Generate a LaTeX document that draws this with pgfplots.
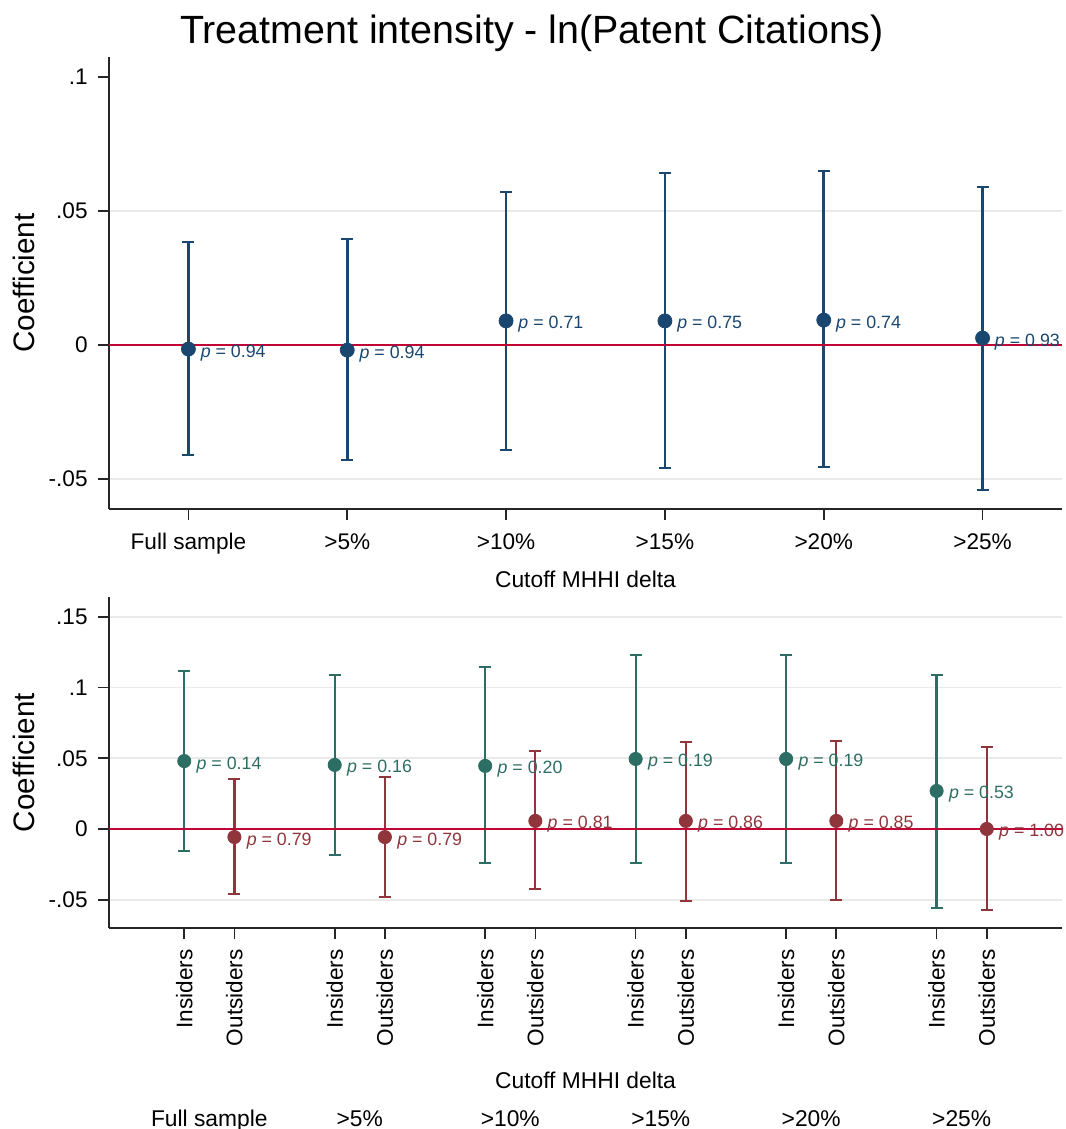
\documentclass[border=0pt]{standalone}
\usepackage{pgfplots}
\pgfplotsset{compat=1.18}
\usepackage{pgfplotstable}
\usepackage{fontspec}
\setmainfont{Liberation Sans}

\definecolor{navy}{RGB}{26,71,111}
\definecolor{stteal}{RGB}{45,110,100}
\definecolor{stmaroon}{RGB}{144,53,59}
\definecolor{cranb}{RGB}{193,5,52}
\definecolor{gridc}{RGB}{234,234,234}

\pgfplotstableread{
x y lo hi p
0 -0.0015 -0.0410 0.0384 0.94
1 -0.0019 -0.0429 0.0396 0.94
2 0.0090 -0.0392 0.0571 0.71
3 0.0090 -0.0459 0.0642 0.75
4 0.0093 -0.0455 0.0649 0.74
5 0.0026 -0.0541 0.0590 0.93
}\toptab

\pgfplotstableread{
x y lo hi p
0 0.0480 -0.0156 0.1117 0.14
3 0.0453 -0.0184 0.1090 0.16
6 0.0446 -0.0240 0.1146 0.20
9 0.0495 -0.0240 0.1230 0.19
12 0.0495 -0.0240 0.1230 0.19
15 0.0269 -0.0559 0.1090 0.53
}\instab

\pgfplotstableread{
x y lo hi p
1 -0.0057 -0.0460 0.0354 0.79
4 -0.0057 -0.0481 0.0368 0.79
7 0.0057 -0.0424 0.0552 0.81
10 0.0057 -0.0509 0.0615 0.86
13 0.0057 -0.0502 0.0622 0.85
16 0.0000 -0.0573 0.0580 1.00
}\outtab

\pgfplotsset{
  statastyle/.style={
    scale only axis,
    clip=false,
    axis x line*=bottom,
    axis y line*=left,
    axis line style={-, line width=0.8pt, black!85},
    tick align=outside,
    major tick length=5.5pt,
    tick style={line width=0.8pt, black!85},
    tick label style={font=\fontsize{11.3}{13}\selectfont},
    yticklabel style={anchor=east, inner sep=0pt, xshift=-5pt},
    grid style={line width=0.8pt, gridc},
    ymajorgrids,
    every axis y label/.style={at={(axis description cs:-0.0892,0.5)}, rotate=90, anchor=center, font=\fontsize{14.8}{17}\selectfont},
  },
  ptlab/.style={
    only marks, mark=none, point meta=explicit symbolic,
    nodes near coords={\textit{p} = \pgfplotspointmeta},
    every node near coord/.style={anchor=base west, inner sep=0pt, xshift=6pt, yshift=-4pt, font=\fontsize{8.9}{10}\selectfont, text=#1},
  },
  cibar/.style 2 args={
    only marks, mark=none, forget plot,
    error bars/.cd, y dir=both, y explicit,
    error mark=|,
    error bar style={solid, line width=#2, draw=#1},
    error mark options={solid, line width=#2, mark size=3pt, draw=#1},
  },
}

\begin{document}
\begin{tikzpicture}
\useasboundingbox (0,0) rectangle (532.5pt,-564.5pt);
\node[anchor=base, font=\fontsize{19.7}{23}\selectfont] at (266pt,-22pt) {Treatment intensity - ln(Patent Citations)};

% top panel
\begin{axis}[statastyle,
  at={(54.5pt,-28.5pt)}, anchor=north west,
  width=476.5pt, height=226pt,
  xmin=-0.5, xmax=5.5, ymin=-0.0612, ymax=0.1075,
  xtick={0,1,2,3,4,5},
  xticklabels={Full sample,>5\%,>10\%,>15\%,>20\%,>25\%},
  xticklabel style={anchor=base, yshift=-14.5pt},
  ytick={-0.05,0,0.05}, yticklabels={-.05,0,.05},
  extra y ticks={0.1}, extra y tick labels={.1},
  extra y tick style={grid=none},
  xlabel={Cutoff MHHI delta},
  every axis x label/.style={at={(axis description cs:0.5,0)}, anchor=base, yshift=-39pt, font=\fontsize{11.4}{13}\selectfont},
  ylabel={Coefficient},
]
\addplot[cibar={navy}{1.3pt}] table[x=x, y=y, y error plus expr=\thisrow{hi}-\thisrow{y}, y error minus expr=\thisrow{y}-\thisrow{lo}] {\toptab};
\addplot[ptlab=navy] table[x=x, y=y, meta=p] {\toptab};
\addplot[cranb, line width=1pt, forget plot] coordinates {(-0.5,0) (5.5,0)};
\addplot[only marks, mark=*, mark size=3.5pt, navy, mark options={draw=navy, fill=navy}] table[x=x, y=y] {\toptab};
\end{axis}

% bottom panel
\begin{axis}[statastyle,
  at={(54.5pt,-298.5pt)}, anchor=north west,
  width=476.5pt, height=165.5pt,
  xmin=-1.5, xmax=17.5, ymin=-0.070, ymax=0.164,
  xtick={0,1,3,4,6,7,9,10,12,13,15,16},
  xticklabels={Insiders,Outsiders,Insiders,Outsiders,Insiders,Outsiders,Insiders,Outsiders,Insiders,Outsiders,Insiders,Outsiders},
  xticklabel style={rotate=90, anchor=east, inner sep=0pt},
  xticklabel shift=5pt,
  ytick={-0.05,0,0.05,0.1,0.15}, yticklabels={-.05,0,.05,.1,.15},
  xlabel={Cutoff MHHI delta},
  every axis x label/.style={at={(axis description cs:0.5,0)}, anchor=base, yshift=-80pt, font=\fontsize{11.4}{13}\selectfont},
  ylabel={Coefficient},
]
\addplot[cibar={stteal}{1.15pt}] table[x=x, y=y, y error plus expr=\thisrow{hi}-\thisrow{y}, y error minus expr=\thisrow{y}-\thisrow{lo}] {\instab};
\addplot[cibar={stmaroon}{1.15pt}] table[x=x, y=y, y error plus expr=\thisrow{hi}-\thisrow{y}, y error minus expr=\thisrow{y}-\thisrow{lo}] {\outtab};
\addplot[ptlab=stteal] table[x=x, y=y, meta=p] {\instab};
\addplot[ptlab=stmaroon] table[x=x, y=y, meta=p] {\outtab};
\addplot[cranb, line width=1pt, forget plot] coordinates {(-1.5,0) (17.5,0)};
\addplot[only marks, mark=*, mark size=3.3pt, stteal, mark options={draw=stteal, fill=stteal}] table[x=x, y=y] {\instab};
\addplot[only marks, mark=*, mark size=3.3pt, stmaroon, mark options={draw=stmaroon, fill=stmaroon}] table[x=x, y=y] {\outtab};
\node[anchor=base, font=\fontsize{11.4}{13}\selectfont, yshift=-99pt] at (axis cs:0.5,-0.070) {Full sample};
\node[anchor=base, font=\fontsize{11.4}{13}\selectfont, yshift=-99pt] at (axis cs:3.5,-0.070) {>5\%};
\node[anchor=base, font=\fontsize{11.4}{13}\selectfont, yshift=-99pt] at (axis cs:6.5,-0.070) {>10\%};
\node[anchor=base, font=\fontsize{11.4}{13}\selectfont, yshift=-99pt] at (axis cs:9.5,-0.070) {>15\%};
\node[anchor=base, font=\fontsize{11.4}{13}\selectfont, yshift=-99pt] at (axis cs:12.5,-0.070) {>20\%};
\node[anchor=base, font=\fontsize{11.4}{13}\selectfont, yshift=-99pt] at (axis cs:15.5,-0.070) {>25\%};
\end{axis}
\end{tikzpicture}
\end{document}
